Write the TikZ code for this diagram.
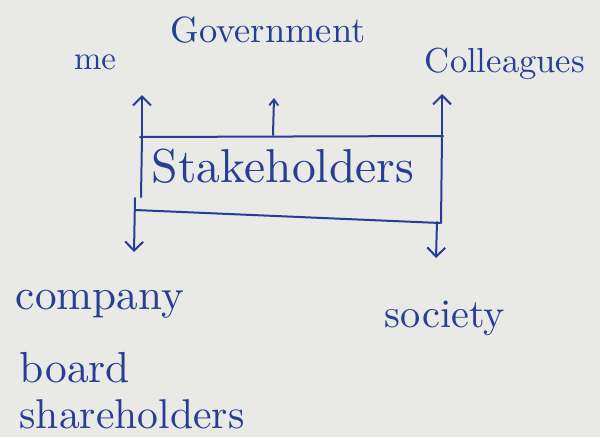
\documentclass[tikz,border=0pt]{standalone}
\usetikzlibrary{arrows.meta}
\definecolor{paper}{RGB}{233,233,229}
\definecolor{ink}{RGB}{38,62,150}
\tikzset{
  ink/.style={draw=ink, line width=2pt, line cap=round, line join=round},
  arr/.style={ink, -{Straight Barb[length=9pt,width=18pt,line width=2pt]}},
  arrs/.style={ink, -{Straight Barb[length=6pt,width=9pt,line width=1.8pt]}},
  lbl/.style={text=ink, inner sep=0pt}
}
\newcommand{\fw}[2]{\resizebox{#1pt}{!}{#2}}
\begin{document}
\begin{tikzpicture}[x=1pt,y=-1pt]
\fill[paper] (0,0) rectangle (600,437);
\useasboundingbox (0,0) rectangle (600,437);
% box corners
\coordinate (tl) at (140,137);
\coordinate (tr) at (443,136);
\coordinate (bl) at (135,210);
\coordinate (br) at (440,223);
\coordinate (ls0) at (142,137);
\coordinate (ls1) at (141,197);
\coordinate (rs0) at (442,136);
\coordinate (rs1) at (441,223);
% arrow anchors
\coordinate (ua) at (142,137);  \coordinate (ue) at (142,95);
\coordinate (ma) at (273,135);  \coordinate (me2) at (274,98);
\coordinate (ra) at (442,136);  \coordinate (re) at (442,94);
\coordinate (da) at (135,198);  \coordinate (de) at (134,252);
\coordinate (sa) at (437,222);  \coordinate (se) at (436,258);
% box
\draw[ink] (tl) -- (tr);
\draw[ink] (ls0) -- (ls1);
\draw[ink] (rs0) -- (rs1);
\draw[ink] (bl) -- (br);
% arrows
\draw[arr] (ua) -- (ue);
\draw[arrs] (ma) -- (me2);
\draw[arr] (ra) -- (re);
\draw[arr] (da) -- (de);
\draw[arr] (sa) -- (se);
% labels
\node[lbl] (st) at (283,166) {\fw{262}{Stakeholders}};
\node[lbl] (me) at (95,62) {\fw{42}{me}};
\node[lbl] (gov) at (268,30) {\fw{195}{Government}};
\node[lbl] (col) at (505,64) {\fw{160}{Colleagues}};
\node[lbl] (comp) at (100,304) {\fw{168}{company}};
\node[lbl] (board) at (75,368) {\fw{110}{board}};
\node[lbl] (share) at (132,414) {\fw{225}{shareholders}};
\node[lbl] (soc) at (445,318) {\fw{120}{society}};
\end{tikzpicture}
\end{document}
